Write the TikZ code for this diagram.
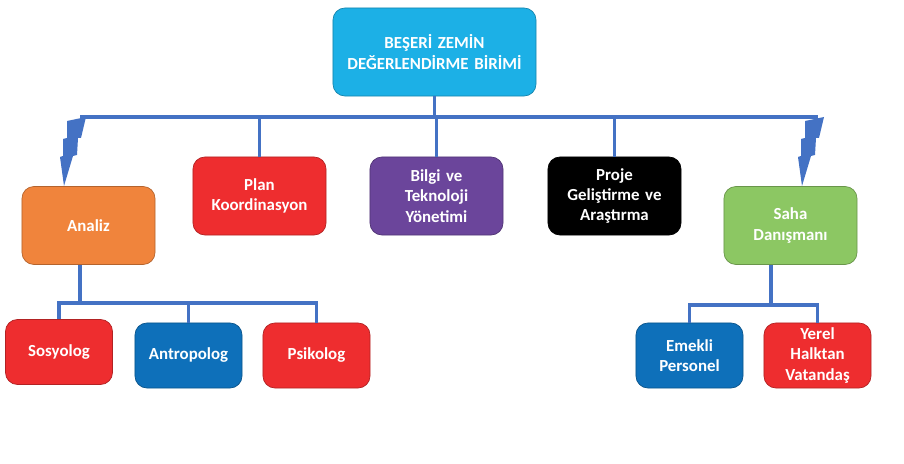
\documentclass[tikz,border=0pt]{standalone}
\usepackage{fontspec}
\setmainfont{Carlito}
\definecolor{tcyan}{HTML}{1CB0E6}
\definecolor{tred}{HTML}{EE2D2F}
\definecolor{tpurple}{HTML}{6B459B}
\definecolor{torange}{HTML}{F0843C}
\definecolor{tgreen}{HTML}{8CC763}
\definecolor{tblue}{HTML}{0E70BA}
\definecolor{tline}{HTML}{4472C4}
\tikzset{
  box/.style={rounded corners=0.3cm, draw=#1!75!black, line width=0.5pt, fill=#1,
    text=white, font=\bfseries\fontsize{12}{14.5}\selectfont, align=center,
    minimum width=3.325cm, minimum height=1.95cm, text width=3cm},
  smallbox/.style={box=#1, minimum width=2.675cm, minimum height=1.625cm, text width=2.4cm},
  conn/.style={draw=tline, line width=2.2pt},
  pics/bolt/.style={code={
    \fill[tline] (6,0) -- (1,21) -- (-2,21) -- (-3,38) -- (-7,39) -- (-16,69)
      -- (-20,40) -- (-17,39) -- (-17,22) -- (-13,21) -- (-13,4) -- cycle;}}
}
\begin{document}
\begin{tikzpicture}[x=0.025cm, y=-0.025cm]
        \useasboundingbox (0,0) rectangle (904,464);
        % Nodes
        \node at (434.5,52) [box=tcyan, minimum width=5.075cm, minimum height=2.2cm, text width=4.8cm] (top) {BEŞERİ ZEMİN\\DEĞERLENDİRME BİRİMİ};
        \node at (259.5,196) [box=tred] (plan) {Plan\\Koordinasyon};
        \node at (436.5,196) [box=tpurple] (bilgi) {Bilgi ve\\Teknoloji\\Yönetimi};
        \node at (614.5,196) [box=black] (proje) {Proje\\Geliştirme ve\\Araştırma};
        \node at (88.5,225.5) [box=torange] (analiz) {Analiz};
        \node at (790.5,225.5) [box=tgreen] (saha) {Saha\\Danışmanı};
        \node at (59,352) [smallbox=tred] (sosyolog) {Sosyolog};
        \node at (188.5,355.5) [smallbox=tblue] (antropolog) {Antropolog};
        \node at (316.5,355.5) [smallbox=tred] (psikolog) {Psikolog};
        \node at (689.5,355.5) [smallbox=tblue] (emekli) {Emekli\\Personel};
        \node at (817.5,355.5) [smallbox=tred] (yerel) {Yerel\\Halktan\\Vatandaş};

        % Coordinates
        \coordinate (busL) at (80,117);
        \coordinate (busR) at (818,117);
        \coordinate (abus) at (80,303);
        \coordinate (sbus) at (771,305);

        % Lines
        \draw[conn] (busL) -- (busR);
        \draw[conn] (top.south) -- (top.south |- busL);
        \draw[conn] (plan.north) -- (plan.north |- busL);
        \draw[conn] (bilgi.north) -- (bilgi.north |- busL);
        \draw[conn] (proje.north) -- (proje.north |- busL);
        \pic at (busL) {bolt};
        \pic at (busR) {bolt};

        \draw[conn] (abus |- analiz.south) -- (abus);
        \draw[conn] (sosyolog.north) |- (abus) -| (psikolog.north);
        \draw[conn] (antropolog.north) -- (antropolog.north |- abus);

        \draw[conn] (sbus |- saha.south) -- (sbus);
        \draw[conn] (emekli.north) |- (sbus) -| (yerel.north);
    \end{tikzpicture}
\end{document}
